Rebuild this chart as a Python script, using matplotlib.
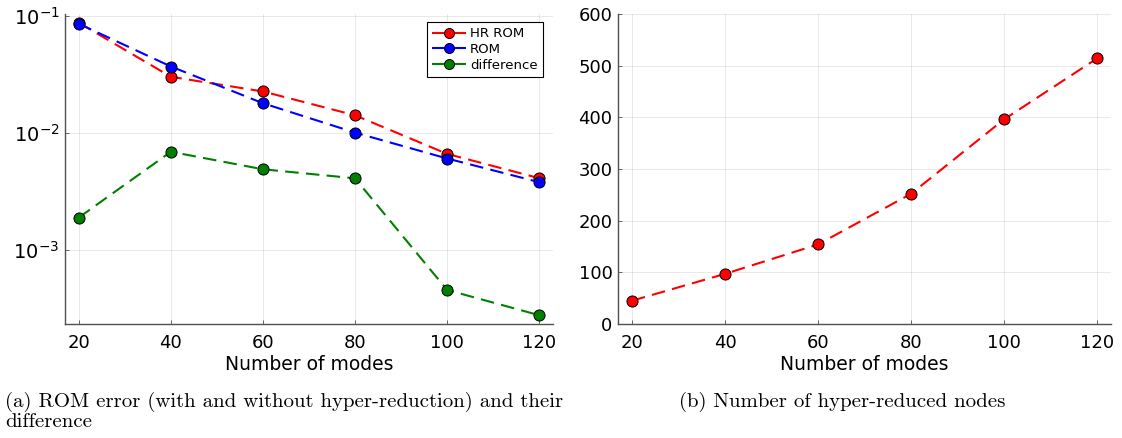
import numpy as np
import matplotlib
matplotlib.use("Agg")
import matplotlib.pyplot as plt
from matplotlib.ticker import LogLocator, LogFormatterSciNotation, NullLocator

# dados
modos = [20, 40, 60, 80, 100, 120]
erro_hr_rom = [0.0877, 0.0303, 0.0227, 0.0142, 0.00665, 0.00412]
erro_rom = [0.0860, 0.0371, 0.0180, 0.0101, 0.00607, 0.00381]
diferenca = [0.00190, 0.00693, 0.00491, 0.00411, 0.000457, 0.000278]
nos_hiper = [45, 97, 154, 252, 396, 514]

W, H = 1122, 438
fig = plt.figure(figsize=(W / 100, H / 100), dpi=100)

def eixo(x0, x1, y0, y1):
    return fig.add_axes([x0 / W, (H - y1) / H, (x1 - x0) / W, (y1 - y0) / H])

def estilo(ax):
    for s in ['top', 'right']:
        ax.spines[s].set_visible(False)
    for s in ['left', 'bottom']:
        ax.spines[s].set_color('#505050')
        ax.spines[s].set_linewidth(1.0)
    ax.grid(True, color='black', alpha=0.1, linewidth=0.6)
    ax.set_axisbelow(True)
    ax.tick_params(direction='in', length=3, width=0.6, colors='#505050',
                   labelcolor='black', labelsize=13, pad=4)
    ax.tick_params(axis='x', pad=7)
    ax.set_xlim(17, 123)
    ax.set_xticks(modos)
    ax.set_xlabel('Number of modes', fontsize=13.5, labelpad=2)

kw = dict(linestyle=(0, (6.5, 3.5)), linewidth=1.5, marker='o', markersize=8,
          markeredgecolor='black', markeredgewidth=0.7)

# (a) erro
ax1 = eixo(65, 553, 14, 324)
ax1.plot(modos, erro_hr_rom, color='red', markerfacecolor='red', label='HR ROM', **kw)
ax1.plot(modos, erro_rom, color='blue', markerfacecolor='blue', label='ROM', **kw)
ax1.plot(modos, diferenca, color='green', markerfacecolor='green', label='difference', **kw)
ax1.set_yscale('log')
ax1.set_ylim(10 ** -3.631, 10 ** -0.982)
ax1.yaxis.set_major_locator(LogLocator(base=10, numticks=10))
ax1.yaxis.set_major_formatter(LogFormatterSciNotation())
ax1.yaxis.set_minor_locator(NullLocator())
estilo(ax1)
ax1.tick_params(axis='y', labelsize=14)
leg = ax1.legend(loc='upper right', bbox_to_anchor=(0.9795, 0.974), borderaxespad=0,
                 fontsize=9.5, fancybox=False, edgecolor='black', framealpha=1,
                 handlelength=2.6, handletextpad=0.3, labelspacing=0.2,
                 borderpad=0.4, numpoints=1, markerscale=0.9)
leg.get_frame().set_linewidth(0.8)

# (b) nos hiper-reduzidos
ax2 = eixo(618, 1111, 14, 324)
ax2.plot(modos, nos_hiper, color='red', markerfacecolor='red', **kw)
ax2.set_ylim(0, 600)
ax2.set_yticks([0, 100, 200, 300, 400, 500, 600])
estilo(ax2)

# legendas das subfiguras
fonte_cap = dict(family='cmr10', fontsize=15, va='baseline', ha='left')
fig.text(5 / W, 1 - 407 / H, '(a) ROM error (with and without hyper-reduction) and their', **fonte_cap)
fig.text(5 / W, 1 - 427 / H, 'difference', **fonte_cap)
fig.text(679 / W, 1 - 407 / H, '(b) Number of hyper-reduced nodes', **fonte_cap)

fig.savefig('out.png', dpi=100)
